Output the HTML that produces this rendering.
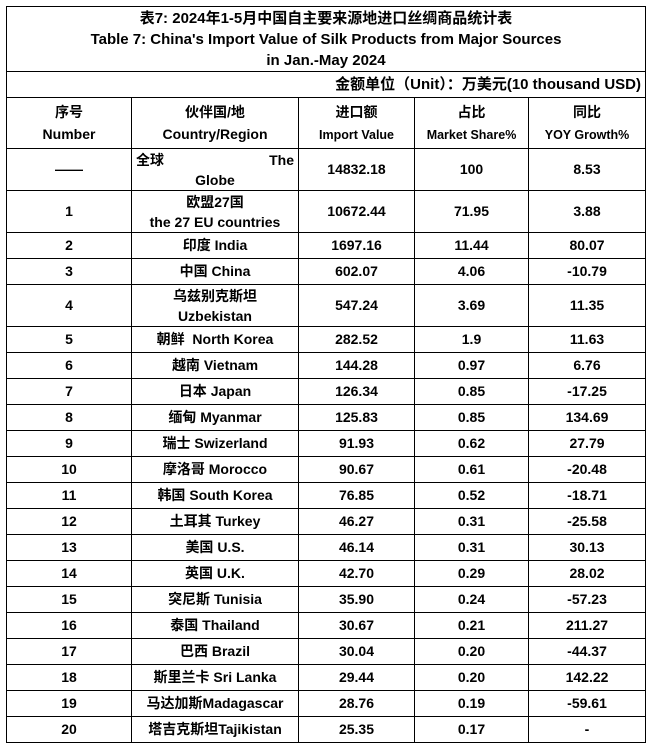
<!DOCTYPE html>
<html><head><meta charset="utf-8"><style>
body{margin:0;background:#fff;width:648px;height:747px;overflow:hidden;font-family:"Liberation Sans","Noto Sans CJK SC",sans-serif;font-weight:bold;color:#000}
table{position:absolute;left:6px;top:6px;border-collapse:collapse;table-layout:fixed;width:639px}
td{border:1px solid #000;padding:0;text-align:center;font-size:14px;line-height:21px;overflow:hidden;white-space:nowrap}
.t td{font-size:15px;line-height:21px}
.h td{font-size:14px;line-height:22px}
.h small{font-size:12.5px}
tr.r td{height:25px}
</style></head><body>
<table>
<col style="width:125px"><col style="width:167px"><col style="width:116px"><col style="width:114px"><col style="width:117px">
<tr class="t"><td colspan="5" style="height:64px;border-top:1px solid #000">表7: 2024年1-5月中国自主要来源地进口丝绸商品统计表<br>Table 7: China's Import Value of Silk Products from Major Sources<br>in Jan.-May 2024</td></tr>
<tr><td colspan="5" style="height:25px;text-align:right;padding-right:4px;font-size:15px">金额单位（Unit）：万美元(10 thousand USD)</td></tr>
<tr class="h"><td style="height:50px">序号<br>Number</td><td>伙伴国/地<br>Country/Region</td><td>进口额<br><small>Import Value</small></td><td>占比<br><small>Market Share%</small></td><td>同比<br><small>YOY Growth%</small></td></tr>
<tr><td style="height:41px">——</td><td style="text-align:left;padding:0 4px;line-height:20px">全球<span style="float:right">The</span><br><span style="display:block;text-align:center">Globe</span></td><td>14832.18</td><td>100</td><td>8.53</td></tr>
<tr><td style="height:41px">1</td><td style="line-height:20px">欧盟27国<br>the 27 EU countries</td><td>10672.44</td><td>71.95</td><td>3.88</td></tr>
<tr class="r"><td>2</td><td>印度 India</td><td>1697.16</td><td>11.44</td><td>80.07</td></tr>
<tr class="r"><td>3</td><td>中国 China</td><td>602.07</td><td>4.06</td><td>-10.79</td></tr>
<tr><td style="height:41px">4</td><td style="line-height:20px">乌兹别克斯坦<br>Uzbekistan</td><td>547.24</td><td>3.69</td><td>11.35</td></tr>
<tr class="r"><td>5</td><td>朝鲜&nbsp; North Korea</td><td>282.52</td><td>1.9</td><td>11.63</td></tr>
<tr class="r"><td>6</td><td>越南 Vietnam</td><td>144.28</td><td>0.97</td><td>6.76</td></tr>
<tr class="r"><td>7</td><td>日本 Japan</td><td>126.34</td><td>0.85</td><td>-17.25</td></tr>
<tr class="r"><td>8</td><td>缅甸 Myanmar</td><td>125.83</td><td>0.85</td><td>134.69</td></tr>
<tr class="r"><td>9</td><td>瑞士 Swizerland</td><td>91.93</td><td>0.62</td><td>27.79</td></tr>
<tr class="r"><td>10</td><td>摩洛哥 Morocco</td><td>90.67</td><td>0.61</td><td>-20.48</td></tr>
<tr class="r"><td>11</td><td>韩国 South Korea</td><td>76.85</td><td>0.52</td><td>-18.71</td></tr>
<tr class="r"><td>12</td><td>土耳其 Turkey</td><td>46.27</td><td>0.31</td><td>-25.58</td></tr>
<tr class="r"><td>13</td><td>美国 U.S.</td><td>46.14</td><td>0.31</td><td>30.13</td></tr>
<tr class="r"><td>14</td><td>英国 U.K.</td><td>42.70</td><td>0.29</td><td>28.02</td></tr>
<tr class="r"><td>15</td><td>突尼斯 Tunisia</td><td>35.90</td><td>0.24</td><td>-57.23</td></tr>
<tr class="r"><td>16</td><td>泰国 Thailand</td><td>30.67</td><td>0.21</td><td>211.27</td></tr>
<tr class="r"><td>17</td><td>巴西 Brazil</td><td>30.04</td><td>0.20</td><td>-44.37</td></tr>
<tr class="r"><td>18</td><td>斯里兰卡 Sri Lanka</td><td>29.44</td><td>0.20</td><td>142.22</td></tr>
<tr class="r"><td>19</td><td>马达加斯Madagascar</td><td>28.76</td><td>0.19</td><td>-59.61</td></tr>
<tr class="r"><td>20</td><td>塔吉克斯坦Tajikistan</td><td>25.35</td><td>0.17</td><td>-</td></tr>
</table>
</body></html>
